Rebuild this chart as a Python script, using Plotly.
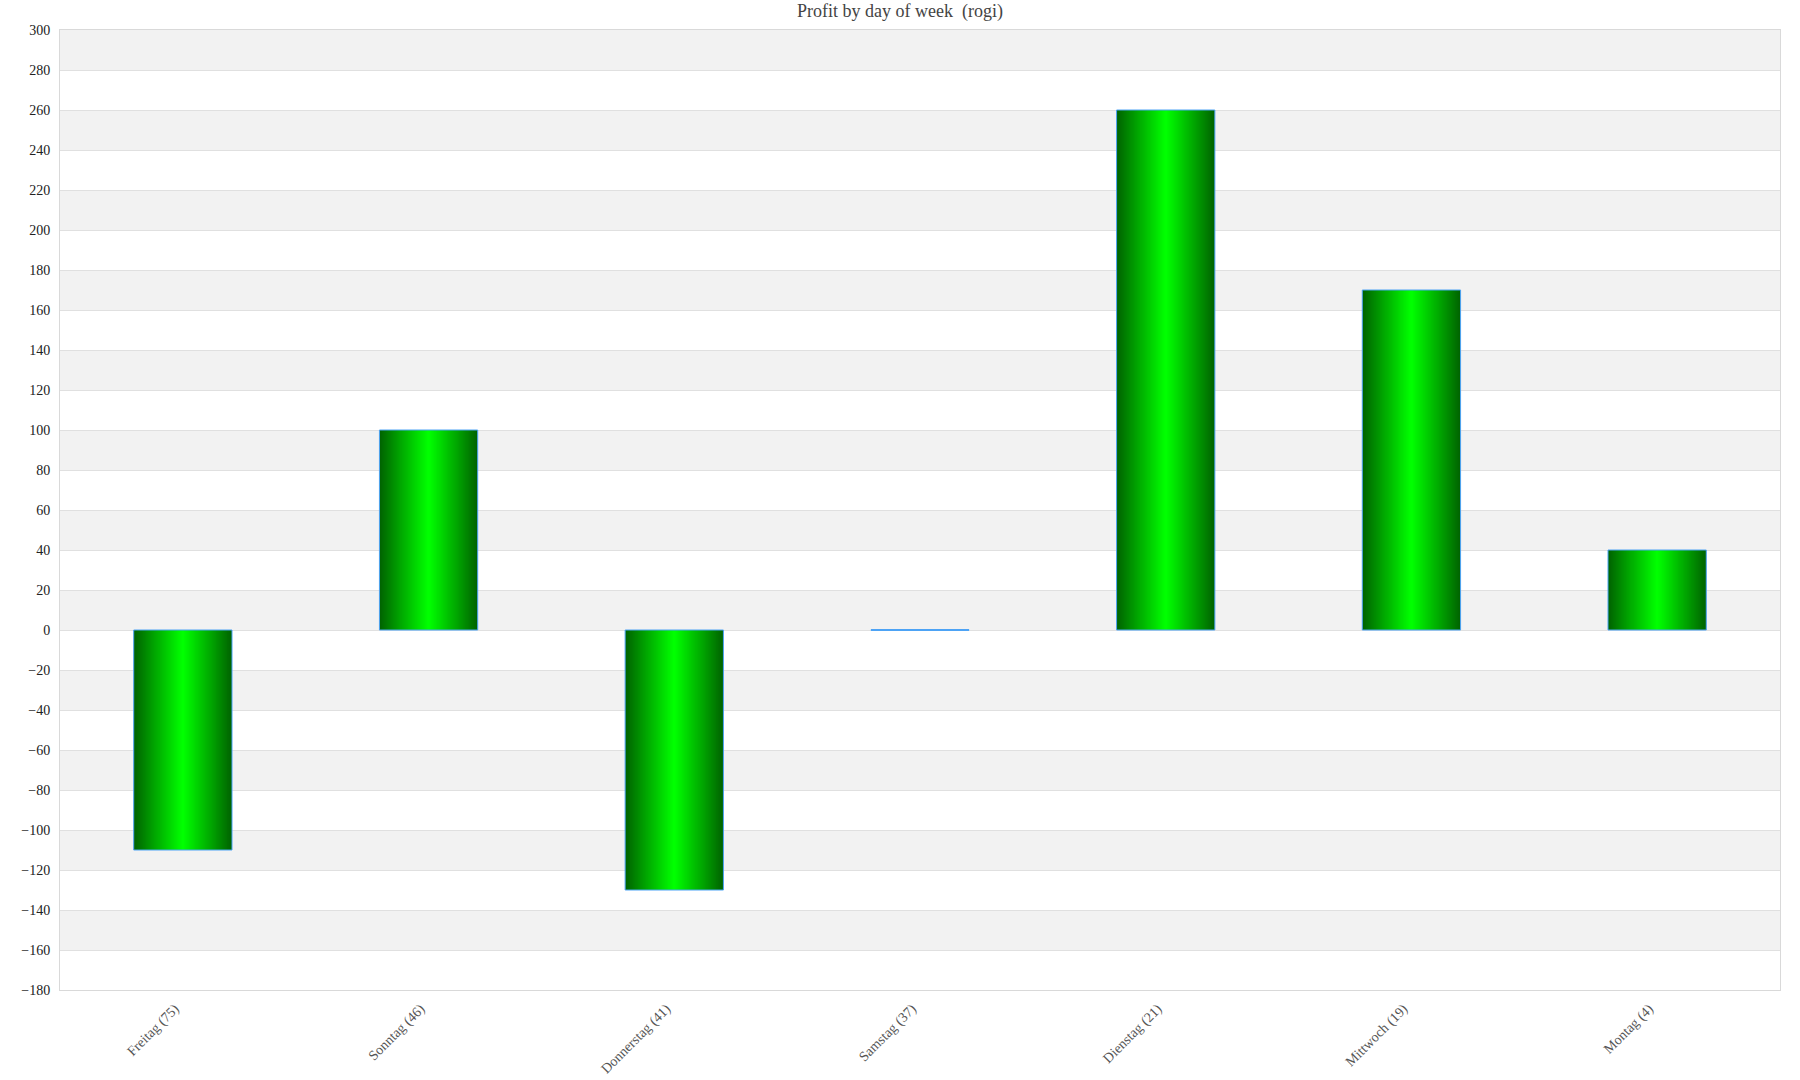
import plotly.graph_objects as go

# Data
days = ["Freitag (75)", "Sonntag (46)", "Donnerstag (41)", "Samstag (37)",
        "Dienstag (21)", "Mittwoch (19)", "Montag (4)"]
profit = [-110, 100, -130, 0, 260, 170, 40]

y_min, y_max, y_step = -180, 300, 20

FONT = "Georgia, 'Liberation Serif', 'DejaVu Serif', serif"
EDGE = (0, 100, 0)      # dark green at bar edges
CENTRE = (0, 255, 0)    # lime in the middle
OUTLINE = "#4da3f5"
BAR_W = 0.4
N_LAYERS = 40


def _mix(a, b, f):
    return "rgb({},{},{})".format(*(int(round(a[i] + f * (b[i] - a[i]))) for i in range(3)))


fig = go.Figure()

# Horizontal gradient: stack ever-narrower bars, darkest (widest) first
for k in range(N_LAYERS):
    fig.add_trace(go.Bar(
        x=days, y=profit,
        width=BAR_W * (1 - k / N_LAYERS),
        marker=dict(color=_mix(EDGE, CENTRE, k / (N_LAYERS - 1)), line=dict(width=0)),
        hoverinfo="skip", showlegend=False,
    ))

# Outline on top of everything
fig.add_trace(go.Bar(
    x=days, y=profit, width=BAR_W,
    marker=dict(color="rgba(0,0,0,0)", line=dict(color=OUTLINE, width=1)),
    hovertemplate="%{x}: %{y}<extra></extra>", showlegend=False,
))

# Zero-valued bars collapse to nothing in plotly; draw their flat edge
zero_days = [d for d, v in zip(days, profit) if v == 0]
zero_vals = [v for v in profit if v == 0]
fig.add_trace(go.Scatter(
    x=zero_days, y=zero_vals, mode="markers",
    marker=dict(symbol="line-ew", size=70, line=dict(color=OUTLINE, width=2)),
    hoverinfo="skip", showlegend=False,
))

# Alternating grey bands, starting from the top of the axis
shapes = []
for top in range(y_max, y_min, -2 * y_step):
    shapes.append(dict(
        type="rect", xref="paper", yref="y", x0=0, x1=1, y0=top - y_step, y1=top,
        fillcolor="#f2f2f2", line=dict(width=0), layer="below",
    ))

fig.update_layout(
    barmode="overlay",
    width=1800, height=1080,
    margin=dict(l=60, r=20, t=30, b=90),
    paper_bgcolor="white", plot_bgcolor="white",
    font=dict(family=FONT, size=14, color="#222"),
    title=dict(text="Profit by day of week  (rogi)", x=0.5, xanchor="center",
               xref="container", yref="container", y=1, yanchor="top",
               pad=dict(t=4), font=dict(family=FONT, size=18, color="#444")),
    shapes=shapes,
)
fig.update_xaxes(
    automargin=False,
    tickangle=-45, tickfont=dict(family=FONT, size=14, color="#555"),
    ticklabelstandoff=4, ticklabelshift=-8,
    showgrid=False, showline=True, linecolor="#d9d9d9", mirror=True, ticks="",
)
fig.update_yaxes(
    automargin=False,
    range=[y_min, y_max], dtick=y_step, tick0=0,
    showgrid=True, gridcolor="#e0e0e0", gridwidth=1,
    zeroline=True, zerolinecolor="#e0e0e0", zerolinewidth=1,
    showline=True, linecolor="#d9d9d9", mirror=True, ticks="",
    tickfont=dict(family=FONT, size=14, color="#222"), ticklabelstandoff=6,
)

# the page's default 8px body margin would push the fixed-size figure off the window
fig.write_html("out.html", config={"displayModeBar": False},
               post_script="document.body.style.margin = '0';")
